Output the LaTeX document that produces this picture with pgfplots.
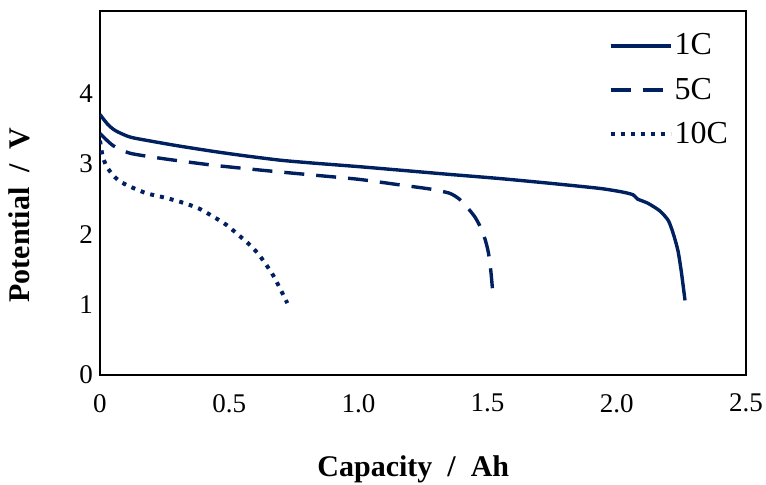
\documentclass[border=0pt]{standalone}
\usepackage{pgfplots}
\pgfplotsset{compat=1.18}
\usepackage{fontspec}
\setmainfont{Liberation Serif}
\definecolor{navy}{RGB}{0,32,96}

\begin{document}
\begin{tikzpicture}
\begin{axis}[
  scale only axis, width=323pt, height=182pt,
  xmin=0, xmax=2.5, ymin=0, ymax=5.17,
  xtick={0,0.5,1.0,1.5,2.0,2.5},
  xticklabels={0,0.5,1.0,1.5,2.0,2.5},
  ytick={0,1,2,3,4},
  major tick length=0pt,
  axis line style={line width=1.1pt},
  /pgf/number format/assume math mode=true,
  tick label style={font=\fontsize{13.5}{15}\selectfont},
  xticklabel style={yshift=-6pt},
  xlabel={\textbf{Capacity\ \ /\ \ Ah}},
  ylabel={\textbf{Potential\ \ /\ \ V}},
  label style={font=\fontsize{15}{17}\selectfont},
  xlabel style={at={(ticklabel cs:0.485,15pt)}},
  ylabel style={at={(ticklabel cs:0.44,18pt)}},
  legend style={at={(rel axis cs:0.985,0.955)}, anchor=north east,
    draw=none, fill=none, font=\fontsize{16}{18}\selectfont,
    row sep=8pt, nodes={inner sep=1pt}},
  legend cell align=left,
  legend image code/.code={\draw[#1] (0pt,0pt) -- (26pt,0pt);
    \path (0pt,0pt) -- (30pt,0pt);},
  every axis plot/.append style={navy, line width=1.7pt},
]
\addplot[solid, smooth, tension=0.4] coordinates {
  (0,3.70)(0.03,3.56)(0.06,3.47)(0.116,3.38)(0.2,3.32)(0.31,3.25)
  (0.45,3.17)(0.568,3.11)(0.7,3.05)(0.825,3.01)(1.0,2.96)(1.16,2.91)
  (1.35,2.85)(1.548,2.79)(1.75,2.72)(1.935,2.65)(2.02,2.60)(2.063,2.56)
  (2.08,2.50)(2.12,2.44)(2.167,2.33)(2.2,2.19)(2.22,1.99)(2.237,1.76)
  (2.25,1.46)(2.264,1.06)};
\addlegendentry{1C}
\addplot[dash pattern=on 10pt off 6pt, smooth, tension=0.4] coordinates {
  (0,3.43)(0.05,3.26)(0.116,3.15)(0.25,3.07)(0.438,2.98)(0.65,2.90)
  (0.825,2.84)(1.0,2.78)(1.161,2.70)(1.28,2.64)(1.354,2.58)(1.39,2.50)
  (1.419,2.39)(1.45,2.25)(1.471,2.11)(1.49,1.93)(1.503,1.74)(1.513,1.46)
  (1.52,1.17)};
\addlegendentry{5C}
\addplot[line width=2pt, dash pattern=on 2pt off 3pt, smooth, tension=0.4] coordinates {
  (0,3.33)(0.01,3.11)(0.026,2.96)(0.05,2.84)(0.077,2.75)(0.12,2.67)
  (0.181,2.58)(0.25,2.52)(0.31,2.46)(0.38,2.37)(0.438,2.25)(0.49,2.13)
  (0.542,1.97)(0.585,1.83)(0.619,1.69)(0.671,1.41)(0.725,1.02)};
\addlegendentry{10C}
\end{axis}
\pgfresetboundingbox
\path (current axis.south west) +(-50pt,-54.5pt)
      (current axis.north east) +(10pt,5.5pt);
\end{tikzpicture}
\end{document}
